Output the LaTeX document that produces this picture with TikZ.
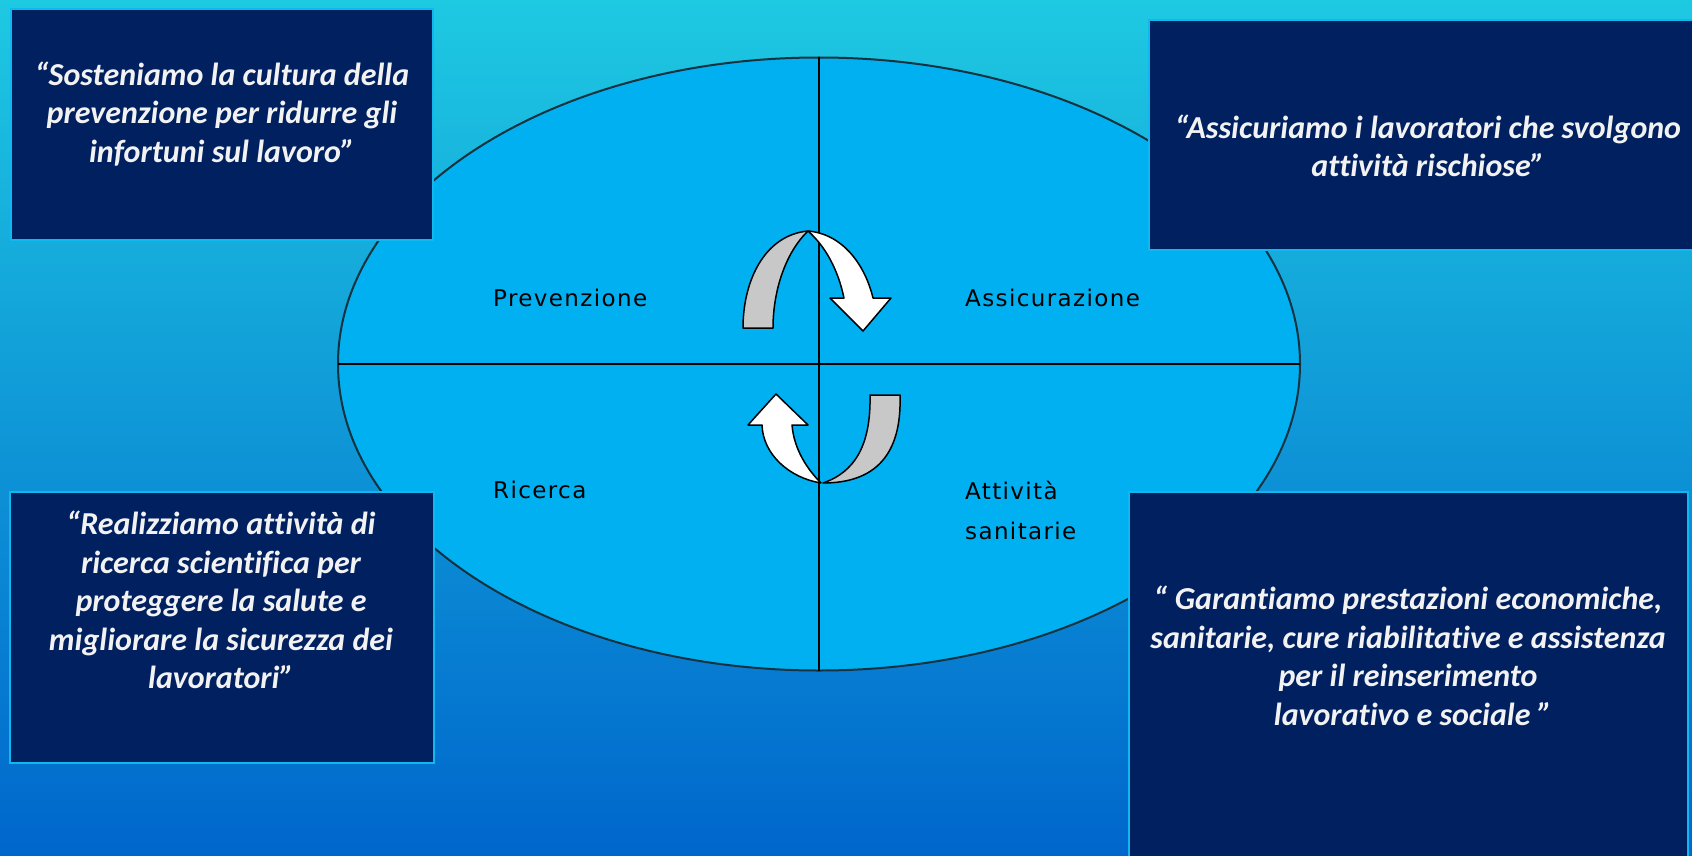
\documentclass[tikz,border=0pt]{standalone}
\usepackage{fontspec}
\setmainfont{Carlito}[Ligatures=NoCommon]
\newfontfamily\labfont{DejaVu Sans}[LetterSpace=6.0]
\usetikzlibrary{shapes.geometric}
\definecolor{bgtop}{RGB}{30,201,226}
\definecolor{bgmid}{RGB}{13,154,222}
\definecolor{bgbot}{RGB}{0,102,204}
\definecolor{navy}{RGB}{0,32,96}
\definecolor{boxedge}{RGB}{16,184,240}
\definecolor{ellfill}{RGB}{0,176,240}
\definecolor{ellline}{RGB}{20,50,64}
\definecolor{piecegray}{RGB}{200,200,200}
\definecolor{quotewhite}{RGB}{242,242,242}
\begin{document}
\begin{tikzpicture}[x=1pt,y=-1pt,
  quotebox/.style={draw=boxedge,line width=2pt,fill=navy,inner sep=0pt,outer sep=0pt,anchor=north west},
  quotetext/.style={text=quotewhite,align=center,font=\fontsize{32}{38.5}\selectfont\bfseries\itshape,inner sep=0pt},
  sector/.style={text=black,font=\labfont\fontsize{23}{40}\selectfont,inner sep=0pt,anchor=west,align=left},
  graypiece/.style={fill=piecegray,draw=black,line width=1.5pt,line join=round},
  whitepiece/.style={fill=white,draw=black,line width=1.5pt,line join=round},
  quadline/.style={draw=black,line width=2.5pt}]
\clip (0,0) rectangle (1692,856);
\shade[top color=bgtop, middle color=bgmid, bottom color=bgbot] (0,0) rectangle (1692,856);

% central ellipse and quadrants
\node[ellipse, draw=ellline, line width=2pt, fill=ellfill, minimum width=962pt, minimum height=613pt, inner sep=0pt, outer sep=0pt] (ell) at (819,364) {};
\draw[quadline] (ell.north) -- (ell.south);
\draw[quadline] (ell.west) -- (ell.east);

\node[sector] (prev) at (493,298) {Prevenzione};
\node[sector] (assic) at (965,298) {Assicurazione};
\node[sector] (ric) at (493,490) {Ricerca};
\node[sector] (sanit) at (965,510) {Attività\\sanitarie};

% upper circular arrow
\path[graypiece] (743,328) -- (773,328) .. controls (773,290) and (786,252) .. (808,231)
  .. controls (765,235) and (743,280) .. (743,328) -- cycle;
\path[whitepiece] (808,231) .. controls (843,234) and (865,265) .. (873,298) -- (891,298) -- (863,331)
  -- (830,298) -- (844,298) .. controls (838,270) and (826,247) .. (808,231) -- cycle;

% lower circular arrow
\path[graypiece] (870,395) -- (900,395) .. controls (902,455) and (875,483) .. (823,483)
  .. controls (855,472) and (871,445) .. (870,395) -- cycle;
\path[whitepiece] (821,483) .. controls (790,478) and (763,455) .. (762,425) -- (748,425) -- (776,394)
  -- (808,425) -- (792,425) .. controls (794,450) and (808,470) .. (821,483) -- cycle;

% quote boxes
\node[quotebox,minimum width=422pt,minimum height=231pt] (b1) at (11,9) {};
\node[quotebox,minimum width=560pt,minimum height=230pt] (b2) at (1149,20) {};
\node[quotebox,minimum width=424pt,minimum height=271pt] (b3) at (10,492) {};
\node[quotebox,minimum width=559pt,minimum height=380pt] (b4) at (1129,492) {};

\node[quotetext] (q1) at (222,114) {“Sosteniamo la cultura della\\prevenzione per ridurre gli\\infortuni sul lavoro”};
\node[quotetext] (q2) at (1428,146) {“Assicuriamo i lavoratori che svolgono\\attività rischiose”};
\node[quotetext] (q3) at (221,600) {“Realizziamo attività di\\ricerca scientifica per\\proteggere la salute e\\migliorare la sicurezza dei\\lavoratori”};
\node[quotetext] (q4) at (1408,656) {“ Garantiamo prestazioni economiche,\\sanitarie, cure riabilitative e assistenza\\per il reinserimento\\\hspace*{0.3em}lavorativo e sociale ”};
\end{tikzpicture}
\end{document}
